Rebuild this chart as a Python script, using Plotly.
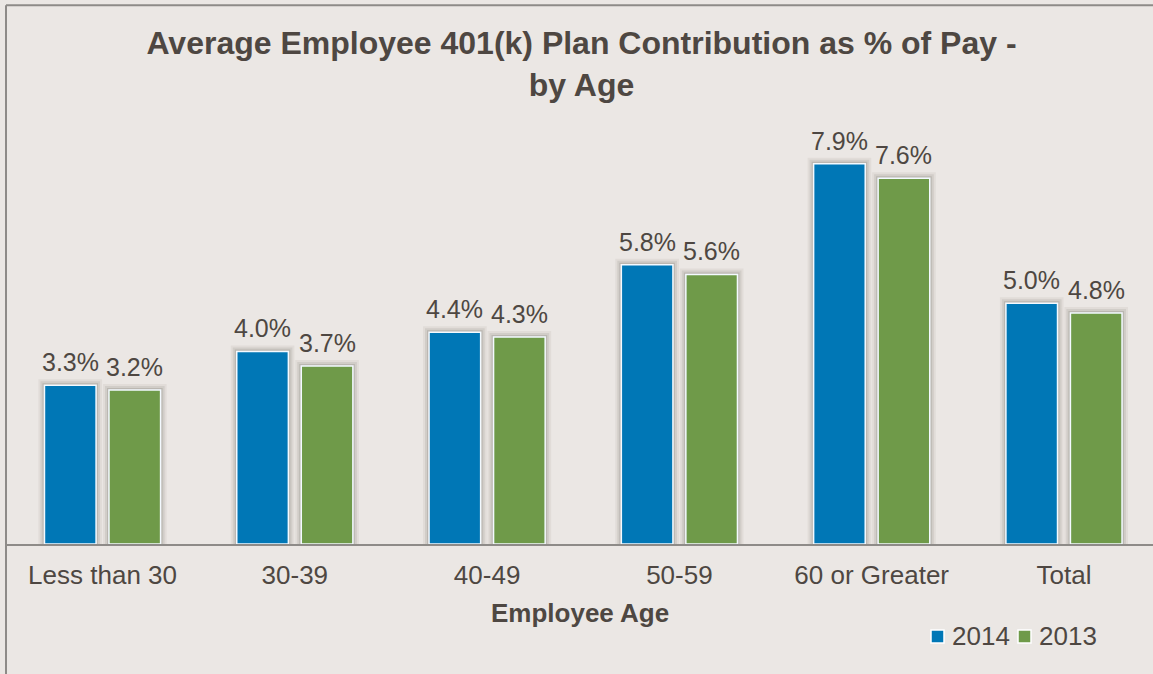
import plotly.graph_objects as go

# Average employee 401(k) contribution as % of pay, by age band
categories = ["Less than 30", "30-39", "40-49", "50-59", "60 or Greater", "Total"]
values_2014 = [3.3, 4.0, 4.4, 5.8, 7.9, 5.0]
values_2013 = [3.2, 3.7, 4.3, 5.6, 7.6, 4.8]
series_names = ["2014", "2013"]

BLUE = "#0077B6"
GREEN = "#6F9A49"
TEXT = "#4E4742"
BG = "#EBE7E4"
FRAME = "#8E8B88"
FONT = "Arial, Liberation Sans, sans-serif"

W, H = 1153, 674
M_L, M_R, M_T, M_B = 6, 0, 110, 130
X_RANGE = [-0.502, 5.463]
Y_RANGE = [0, 9.017]
BARGAP = 0.329
GROUPGAP = 0.2

plot_w = W - M_L - M_R
plot_h = H - M_T - M_B
px_per_cat = plot_w / (X_RANGE[1] - X_RANGE[0])
slot_px = px_per_cat * (1 - BARGAP) / 2


def px_to_paper(px, py):
    """Convert page pixels to paper coordinates of the plot area."""
    return (px - M_L) / plot_w, (H - M_B - py) / plot_h


fig = go.Figure()

# soft drop shadow under each bar, layered halos in the same offset slot
for vals, grp in [(values_2014, "a"), (values_2013, "b")]:
    for width, alpha in [(12, 0.06), (8, 0.09), (4, 0.14)]:
        fig.add_trace(go.Bar(
            x=categories, y=vals, offsetgroup=grp,
            marker=dict(color="rgba(0,0,0,0)",
                        line=dict(color=f"rgba(60,50,40,{alpha})", width=width)),
            showlegend=False, hoverinfo="skip",
        ))

series = [(series_names[0], values_2014, BLUE, "a"),
          (series_names[1], values_2013, GREEN, "b")]
for name, vals, color, grp in series:
    fig.add_trace(go.Bar(
        x=categories, y=vals, name=name, offsetgroup=grp, showlegend=False,
        marker=dict(color=color, line=dict(color="#F4FAFF", width=1.5)),
    ))

# value labels above the bars
annotations = []
for vals, sign in [(values_2014, -1), (values_2013, 1)]:
    for cat, v in zip(categories, vals):
        annotations.append(dict(
            x=cat, y=v, xref="x", yref="y", text=f"{v:.1f}%",
            showarrow=False, xanchor="center", yanchor="bottom",
            xshift=sign * slot_px / 2, yshift=7,
            font=dict(family=FONT, size=25, color=TEXT),
        ))

# axis title
_, ay = px_to_paper(0, 613)
annotations.append(dict(
    x=0.5, xref="paper", y=ay, yref="paper",
    text="<b>Employee Age</b>", showarrow=False,
    xanchor="center", yanchor="middle",
    font=dict(family=FONT, size=26, color=TEXT),
))

# frame on the left and top edges
top_y = (H - M_B - 5.3) / plot_h
bot_y = -0.4
shapes = [
    dict(type="line", xref="paper", yref="paper", x0=0, x1=0, y0=bot_y, y1=top_y,
         line=dict(color=FRAME, width=2)),
    dict(type="line", xref="paper", yref="paper", x0=0, x1=1.02, y0=top_y, y1=top_y,
         line=dict(color=FRAME, width=2)),
]

# compact legend: swatch + label per series
legend_slots = [(931, 950), (1018, 1037)]
for (name, _, color, _), (sx, tx) in zip(series, legend_slots):
    x0, y0 = px_to_paper(sx, 643)
    x1, y1 = px_to_paper(sx + 13, 630)
    shapes.append(dict(type="rect", xref="paper", yref="paper",
                       x0=x0, x1=x1, y0=y0, y1=y1, fillcolor=color,
                       line=dict(color="white", width=1.5)))
    lx, ly = px_to_paper(tx, 636)
    annotations.append(dict(
        x=lx, y=ly, xref="paper", yref="paper", text=name, showarrow=False,
        xanchor="left", yanchor="middle",
        font=dict(family=FONT, size=26, color=TEXT),
    ))

fig.update_layout(
    width=W, height=H,
    margin=dict(l=M_L, r=M_R, t=M_T, b=M_B),
    paper_bgcolor=BG, plot_bgcolor=BG,
    barmode="group", bargap=BARGAP, bargroupgap=GROUPGAP,
    font=dict(family=FONT, color=TEXT),
    title=dict(
        text="<b>Average Employee 401(k) Plan Contribution as % of Pay -<br>by Age</b>",
        x=581.5 / W, xanchor="center", xref="container",
        y=1 - 54 / H, yanchor="top", yref="container",
        font=dict(family=FONT, size=32, color=TEXT),
    ),
    xaxis=dict(
        range=X_RANGE, showgrid=False, zeroline=False,
        showline=True, linecolor=FRAME, linewidth=2,
        ticks="", ticklabelstandoff=7,
        tickfont=dict(family=FONT, size=26, color=TEXT),
    ),
    yaxis=dict(range=Y_RANGE, visible=False, showgrid=False, zeroline=False),
    annotations=annotations,
    shapes=shapes,
    showlegend=False,
)

fig.write_html("out.html")
